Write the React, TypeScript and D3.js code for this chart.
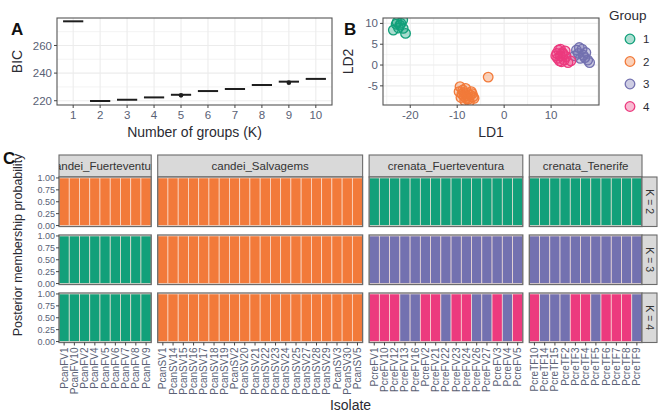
import React from 'react';
import * as d3 from 'd3';

// Panel A: BIC per number of groups
const groupCounts = [1, 2, 3, 4, 5, 6, 7, 8, 9, 10];
const bicMedian = [277.5, 219.8, 220.7, 222.4, 224.3, 227.0, 228.5, 231.4, 233.8, 235.8];
const outlierK = [5, 9];
const outlierBIC = [223.9, 233.1];

// Panel B: LDA scores by group
const ldGroup1 = [
  [-23.6, 8.4], [-22.8, 10.3], [-22.2, 9.6], [-21.6, 10.8], [-22.5, 8.9],
  [-21.0, 7.6], [-22.0, 10.0], [-23.0, 9.8], [-21.5, 8.8],
];
const ldGroup2 = [
  [-9.4, -5.2], [-8.8, -6.0], [-8.2, -5.6], [-9.0, -7.0], [-8.5, -7.6],
  [-7.8, -6.8], [-7.2, -7.2], [-6.6, -7.6], [-6.4, -8.0], [-7.6, -8.2],
  [-8.4, -8.6], [-9.2, -7.8], [-8.0, -7.4], [-7.0, -6.4], [-8.6, -6.6],
  [-9.6, -6.4], [-7.4, -8.8], [-6.8, -6.9], [-8.1, -8.0], [-3.4, -2.9],
];
const ldGroup3 = [
  [15.4, 3.6], [16.0, 4.2], [16.6, 3.8], [15.8, 2.8], [16.8, 2.4],
  [17.2, 1.8], [17.8, 1.2], [18.2, 0.6], [16.2, 1.6], [15.0, 2.2], [17.4, 3.0],
];
const ldGroup4 = [
  [11.2, 2.8], [11.6, 3.6], [12.0, 2.2], [12.4, 3.0], [11.4, 1.6],
  [12.8, 1.2], [13.2, 2.0], [12.2, 0.8], [11.8, 1.0], [13.6, 0.6],
  [12.6, 2.6], [11.0, 2.2], [13.0, 3.4], [14.2, 1.0], [12.0, 3.8],
];
const groupLabels = ['1', '2', '3', '4'];
const groupColors = ['#12a07a', '#f27a3a', '#7371b0', '#ec3a7e'];

// Panel C: membership per isolate
const populations = ['candei_Fuerteventura', 'candei_Salvagems', 'crenata_Fuerteventura', 'crenata_Tenerife'];
const isolatesCandeiFV = ['PcanFV1', 'PcanFV10', 'PcanFV2', 'PcanFV4', 'PcanFV5', 'PcanFV6', 'PcanFV7', 'PcanFV8', 'PcanFV9'];
const isolatesCandeiSV = ['PcanSV1', 'PcanSV14', 'PcanSV15', 'PcanSV16', 'PcanSV17', 'PcanSV18', 'PcanSV19', 'PcanSV2', 'PcanSV20', 'PcanSV21',
  'PcanSV22', 'PcanSV23', 'PcanSV24', 'PcanSV25', 'PcanSV27', 'PcanSV28', 'PcanSV29', 'PcanSV3', 'PcanSV30', 'PcanSV5'];
const isolatesCrenataFV = ['PcreFV1', 'PcreFV10', 'PcreFV12', 'PcreFV13', 'PcreFV16', 'PcreFV2', 'PcreFV21', 'PcreFV22', 'PcreFV23', 'PcreFV24',
  'PcreFV26', 'PcreFV27', 'PcreFV3', 'PcreFV4', 'PcreFV5'];
const isolatesCrenataTF = ['PcreTF10', 'PcreTF14', 'PcreTF15', 'PcreTF2', 'PcreTF3', 'PcreTF4', 'PcreTF5', 'PcreTF6', 'PcreTF7', 'PcreTF8', 'PcreTF9'];
const kLabels = ['K = 2', 'K = 3', 'K = 4'];

// assigned group (probability 1.00) per isolate, per population
const membershipK2 = [
  [2, 2, 2, 2, 2, 2, 2, 2, 2],
  [2, 2, 2, 2, 2, 2, 2, 2, 2, 2, 2, 2, 2, 2, 2, 2, 2, 2, 2, 2],
  [1, 1, 1, 1, 1, 1, 1, 1, 1, 1, 1, 1, 1, 1, 1],
  [1, 1, 1, 1, 1, 1, 1, 1, 1, 1, 1],
];
const membershipK3 = [
  [1, 1, 1, 1, 1, 1, 1, 1, 1],
  [2, 2, 2, 2, 2, 2, 2, 2, 2, 2, 2, 2, 2, 2, 2, 2, 2, 2, 2, 2],
  [3, 3, 3, 3, 3, 3, 3, 3, 3, 3, 3, 3, 3, 3, 3],
  [3, 3, 3, 3, 3, 3, 3, 3, 3, 3, 3],
];
const membershipK4 = [
  [1, 1, 1, 1, 1, 1, 1, 1, 1],
  [2, 2, 2, 2, 2, 2, 2, 2, 2, 2, 2, 2, 2, 2, 2, 2, 2, 2, 2, 2],
  [4, 4, 4, 3, 3, 4, 4, 3, 4, 4, 3, 3, 4, 3, 4],
  [4, 3, 3, 3, 4, 4, 3, 4, 4, 4, 3],
];
const probTicks = [0, 0.25, 0.5, 0.75, 1];

const FONT = 'Liberation Sans, Arial, Helvetica, sans-serif';
const TICK = '#596175';
const TITLE = '#2b2b33';
const GRID = '#ececec';

const App = () => {
  // ---------- Panel A ----------
  const aL = 57, aR = 332, aT = 18, aB = 105;
  const ax = d3.scaleLinear().domain([0.4, 10.6]).range([aL, aR]);
  const ay = d3.scaleLinear().domain([216.9, 279.9]).range([aB, aT]);
  const aMajor = [220, 240, 260];
  const aMinor = [230, 250, 270];

  // ---------- Panel B ----------
  const bL = 383, bR = 599, bT = 18, bB = 105;
  const bx = d3.scaleLinear().domain([-25.8, 20.2]).range([bL, bR]);
  const by = d3.scaleLinear().domain([-9.6, 11.3]).range([bB, bT]);
  const bxMajor = [-20, -10, 0, 10, 20];
  const bxMinor = [-25, -15, -5, 5, 15];
  const byMajor = [-5, 0, 5, 10];
  const byMinor = [-7.5, -2.5, 2.5, 7.5];
  const ldGroups = [ldGroup1, ldGroup2, ldGroup3, ldGroup4];

  // ---------- Panel C ----------
  const isolates = [isolatesCandeiFV, isolatesCandeiSV, isolatesCrenataFV, isolatesCrenataTF];
  const memberships = [membershipK2, membershipK3, membershipK4];
  const cL = 59, cR = 642, gapX = 6.5;
  const totalBars = d3.sum(isolates, (d) => d.length);
  const unit = (cR - cL - gapX * (isolates.length - 1)) / totalBars;
  const colX: number[] = [];
  let acc = cL;
  isolates.forEach((iso) => { colX.push(acc); acc += iso.length * unit + gapX; });
  const bands = isolates.map((iso, i) =>
    d3.scaleBand().domain(iso).range([colX[i], colX[i] + iso.length * unit]).padding(0)
  );
  const stripT = 155, stripH = 22;
  const rowT = stripT + stripH, rowH = 49.5, gapY = 8.5;
  const rowYs = kLabels.map((_, r) => rowT + r * (rowH + gapY));
  const yScales = rowYs.map((t) => d3.scaleLinear().domain([-0.02, 1.02]).range([t + rowH, t]));
  const lastRowBottom = rowYs[rowYs.length - 1] + rowH;
  const fmt = d3.format('.2f');

  return (
    <svg width={658} height={414} style={{ position: 'absolute', left: 0, top: 0, background: '#fff' }} fontFamily={FONT}>
      <defs>
        {populations.map((p, i) => (
          <clipPath id={`strip-clip-${i}`} key={p}>
            <rect x={bands[i].range()[0]} y={stripT} width={bands[i].range()[1] - bands[i].range()[0]} height={stripH} />
          </clipPath>
        ))}
      </defs>

      {/* ===== Panel A ===== */}
      <g>
        <rect x={aL} y={aT} width={aR - aL} height={aB - aT} fill="#fff" />
        {aMinor.map((v) => (
          <line key={`am${v}`} x1={aL} x2={aR} y1={ay(v)} y2={ay(v)} stroke={GRID} strokeWidth={0.6} />
        ))}
        {aMajor.map((v) => (
          <line key={`aM${v}`} x1={aL} x2={aR} y1={ay(v)} y2={ay(v)} stroke={GRID} strokeWidth={1.1} />
        ))}
        {groupCounts.map((k) => (
          <line key={`ax${k}`} x1={ax(k)} x2={ax(k)} y1={aT} y2={aB} stroke={GRID} strokeWidth={1.1} />
        ))}
        {groupCounts.map((k, i) => (
          <line key={`box${k}`} x1={ax(k - 0.375)} x2={ax(k + 0.375)} y1={ay(bicMedian[i])} y2={ay(bicMedian[i])}
            stroke="#1e1e1e" strokeWidth={2} />
        ))}
        {outlierK.map((k, i) => (
          <circle key={`out${k}`} cx={ax(k)} cy={ay(outlierBIC[i])} r={2.3} fill="#1e1e1e" />
        ))}
        <rect x={aL} y={aT} width={aR - aL} height={aB - aT} fill="none" stroke="#555" strokeWidth={1.1} />
        {aMajor.map((v) => (
          <g key={`at${v}`}>
            <line x1={aL - 3} x2={aL} y1={ay(v)} y2={ay(v)} stroke="#444" />
            <text x={aL - 5} y={ay(v)} dy="0.35em" textAnchor="end" fontSize={11.5} fill={TICK}>{v}</text>
          </g>
        ))}
        {groupCounts.map((k) => (
          <g key={`axt${k}`}>
            <line x1={ax(k)} x2={ax(k)} y1={aB} y2={aB + 3} stroke="#444" />
            <text x={ax(k)} y={aB + 14} textAnchor="middle" fontSize={11.5} fill={TICK}>{k}</text>
          </g>
        ))}
        <text x={(aL + aR) / 2} y={137} textAnchor="middle" fontSize={14} fill={TITLE}>Number of groups (K)</text>
        <text transform={`translate(22, ${(aT + aB) / 2}) rotate(-90)`} textAnchor="middle" fontSize={14} fill={TITLE}>BIC</text>
        <text x={11} y={35} fontSize={17} fontWeight="bold" fill="#111">A</text>
      </g>

      {/* ===== Panel B ===== */}
      <g>
        <rect x={bL} y={bT} width={bR - bL} height={bB - bT} fill="#fff" />
        {byMinor.map((v) => (
          <line key={`bym${v}`} x1={bL} x2={bR} y1={by(v)} y2={by(v)} stroke={GRID} strokeWidth={0.6} />
        ))}
        {bxMinor.map((v) => (
          <line key={`bxm${v}`} x1={bx(v)} x2={bx(v)} y1={bT} y2={bB} stroke={GRID} strokeWidth={0.6} />
        ))}
        {byMajor.map((v) => (
          <line key={`byM${v}`} x1={bL} x2={bR} y1={by(v)} y2={by(v)} stroke={GRID} strokeWidth={1.1} />
        ))}
        {bxMajor.map((v) => (
          <line key={`bxM${v}`} x1={bx(v)} x2={bx(v)} y1={bT} y2={bB} stroke={GRID} strokeWidth={1.1} />
        ))}
        <clipPath id="b-clip"><rect x={bL} y={bT} width={bR - bL} height={bB - bT} /></clipPath>
        <g clipPath="url(#b-clip)">
          {ldGroups.map((pts, g) =>
            pts.map((p, j) => (
              <circle key={`p${g}-${j}`} cx={bx(p[0])} cy={by(p[1])} r={4.8}
                fill={groupColors[g]} fillOpacity={0.35} stroke={groupColors[g]} strokeWidth={1.3} />
            ))
          )}
        </g>
        <rect x={bL} y={bT} width={bR - bL} height={bB - bT} fill="none" stroke="#555" strokeWidth={1.1} />
        {byMajor.map((v) => (
          <g key={`byt${v}`}>
            <line x1={bL - 3} x2={bL} y1={by(v)} y2={by(v)} stroke="#444" />
            <text x={bL - 5} y={by(v)} dy="0.35em" textAnchor="end" fontSize={11.5} fill={TICK}>{v}</text>
          </g>
        ))}
        {bxMajor.filter((v) => bx(v) <= bR - 5).map((v) => (
          <g key={`bxt${v}`}>
            <line x1={bx(v)} x2={bx(v)} y1={bB} y2={bB + 3} stroke="#444" />
            <text x={bx(v)} y={bB + 14} textAnchor="middle" fontSize={11.5} fill={TICK}>{v}</text>
          </g>
        ))}
        <text x={(bL + bR) / 2} y={137} textAnchor="middle" fontSize={14} fill={TITLE}>LD1</text>
        <text transform={`translate(353, ${(bT + bB) / 2}) rotate(-90)`} textAnchor="middle" fontSize={14} fill={TITLE}>LD2</text>
        <text x={344} y={35} fontSize={17} fontWeight="bold" fill="#111">B</text>

        {/* legend */}
        <text x={609} y={20} fontSize={13.5} fill={TITLE}>Group</text>
        {groupLabels.map((lab, g) => (
          <g key={`lg${lab}`} transform={`translate(630, ${39 + g * 22.5})`}>
            <circle r={4.8} fill={groupColors[g]} fillOpacity={0.35} stroke={groupColors[g]} strokeWidth={1.3} />
            <text x={13} dy="0.35em" fontSize={11.5} fill={TITLE}>{lab}</text>
          </g>
        ))}
      </g>

      {/* ===== Panel C ===== */}
      <g>
        {populations.map((p, i) => {
          const [x0, x1] = bands[i].range();
          return (
            <g key={`strip${p}`}>
              <rect x={x0} y={stripT} width={x1 - x0} height={stripH} fill="#d9d9d9" stroke="#6b6b6b" strokeWidth={1.1} />
              <text x={(x0 + x1) / 2} y={stripT + stripH / 2} dy="0.35em" textAnchor="middle" fontSize={11.5}
                fill="#333" clipPath={`url(#strip-clip-${i})`}>{p}</text>
            </g>
          );
        })}
        {kLabels.map((kl, r) => {
          const t = rowYs[r];
          const ys = yScales[r];
          return (
            <g key={`row${kl}`}>
              {populations.map((p, i) => {
                const band = bands[i];
                const [x0, x1] = band.range();
                return (
                  <g key={`cell${kl}${p}`}>
                    <rect x={x0} y={t} width={x1 - x0} height={rowH} fill="#fff" />
                    {isolates[i].map((iso, j) => (
                      <rect key={iso} x={band(iso)} y={ys(1)} width={band.bandwidth()} height={ys(0) - ys(1)}
                        fill={groupColors[memberships[r][i][j] - 1]} stroke="#fbe6dc" strokeOpacity={0.8} strokeWidth={0.8} />
                    ))}
                    <rect x={x0} y={t} width={x1 - x0} height={rowH} fill="none" stroke="#6b6b6b" strokeWidth={1.3} />
                  </g>
                );
              })}
              <rect x={cR} y={t} width={15} height={rowH} fill="#d9d9d9" stroke="#6b6b6b" strokeWidth={1.1} />
              <text transform={`translate(${cR + 7.5}, ${t + rowH / 2}) rotate(90)`} dy="0.35em" textAnchor="middle"
                fontSize={10.5} fill="#333">{kl}</text>
              {probTicks.map((v) => (
                <g key={`yt${kl}${v}`}>
                  <line x1={cL - 3} x2={cL} y1={ys(v)} y2={ys(v)} stroke="#444" />
                  <text x={cL - 4} y={ys(v)} dy="0.35em" textAnchor="end" fontSize={9} fill={TICK}>{fmt(v)}</text>
                </g>
              ))}
            </g>
          );
        })}
        {isolates.map((iso, i) =>
          iso.map((name) => {
            const x = (bands[i](name) as number) + bands[i].bandwidth() / 2;
            return (
              <g key={`xl${name}`}>
                <line x1={x} x2={x} y1={lastRowBottom} y2={lastRowBottom + 3} stroke="#444" />
                <text transform={`translate(${x}, ${lastRowBottom + 5}) rotate(-90)`} dy="0.35em" textAnchor="end"
                  fontSize={10} fill={TICK}>{name}</text>
              </g>
            );
          })
        )}
        <text x={(cL + cR) / 2} y={410} textAnchor="middle" fontSize={14} fill={TITLE}>Isolate</text>
        <text transform={`translate(22, 245) rotate(-90)`} textAnchor="middle" fontSize={12.5} fill={TITLE}>
          Posterior membership probability
        </text>
        <text x={3} y={164} fontSize={17} fontWeight="bold" fill="#111">C</text>
      </g>
    </svg>
  );
};

export default App;
